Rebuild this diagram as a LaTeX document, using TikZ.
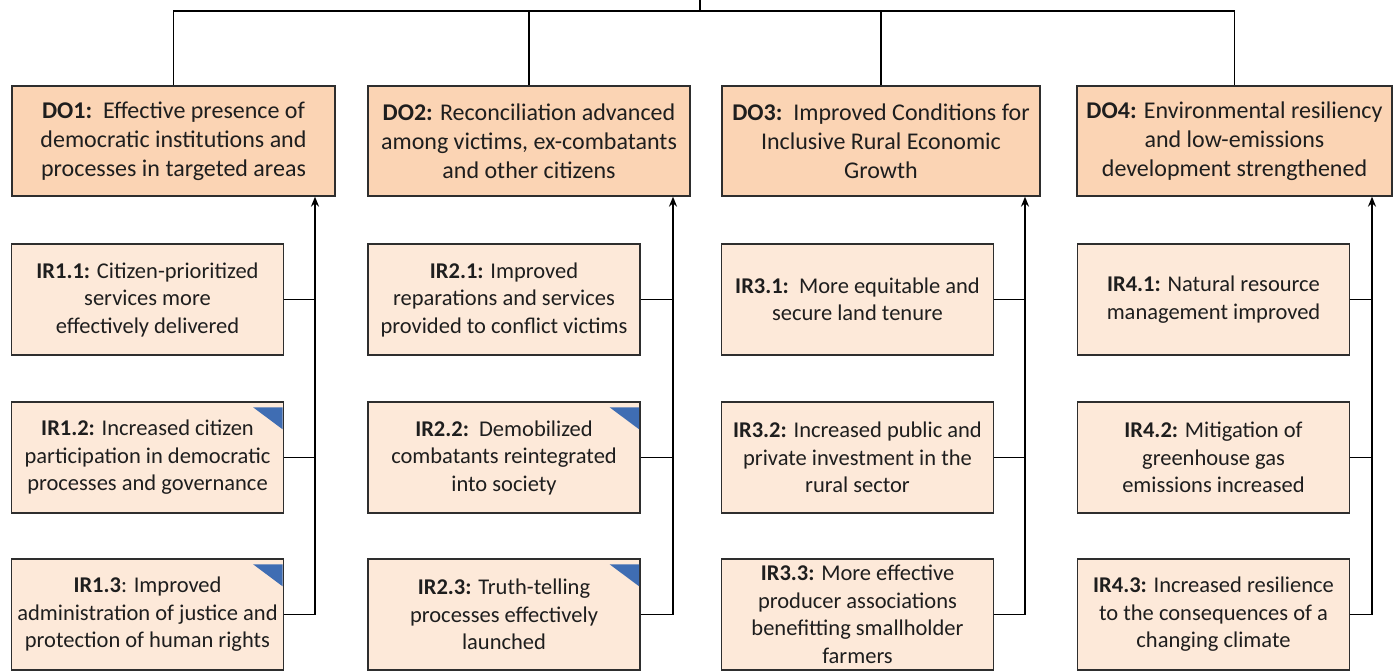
\documentclass[tikz,border=0pt]{standalone}
\usepackage{fontspec}
\setmainfont{Carlito}
\usetikzlibrary{arrows.meta,calc}

\definecolor{dofill}{HTML}{FBD4B4}
\definecolor{irfill}{HTML}{FDE9D9}
\definecolor{boxline}{HTML}{2E2E2E}
\definecolor{flag}{HTML}{3F6DB3}
\definecolor{txt}{HTML}{1E1E1E}

\tikzset{
  dobox/.style={draw=boxline, line width=1.3pt, fill=dofill, align=center,
    minimum height=110pt, inner sep=0pt, text=txt,
    font=\fontsize{24}{29}\selectfont},
  irbox/.style={draw=boxline, line width=1.3pt, fill=irfill, align=center,
    minimum width=272pt, minimum height=111pt, inner sep=0pt, text=txt,
    font=\fontsize{22.5}{27.5}\selectfont},
  conn/.style={draw=black, line width=1.6pt},
  upconn/.style={conn, -{Stealth[length=10pt,width=8pt]}},
  flagmark/.style={fill=flag}
}

\newcommand{\flagat}[1]{%
  \fill[flagmark] ([xshift=-31pt,yshift=-6pt]#1.north east) --
                  ([xshift=-1.5pt,yshift=-6pt]#1.north east) --
                  ([xshift=-1.5pt,yshift=-28pt]#1.north east) -- cycle;}

\begin{document}
\begin{tikzpicture}[x=1pt,y=1pt]
\useasboundingbox (0,0) rectangle (1393,-672);

% development objectives
\node[dobox, minimum width=323pt] (do1) at (173.5,-141)
  {\textbf{DO1:}\ \ Effective presence of\\democratic institutions and\\processes in targeted areas};
\node[dobox, minimum width=322pt] (do2) at (529,-141)
  {\textbf{DO2:} Reconciliation advanced\\among victims, ex-combatants\\and other citizens};
\node[dobox, minimum width=318pt] (do3) at (881,-141)
  {\textbf{DO3:}\ \ Improved Conditions for\\Inclusive Rural Economic\\Growth};
\node[dobox, minimum width=315pt] (do4) at (1234.5,-141)
  {\textbf{DO4:} Environmental resiliency\\and low-emissions\\development strengthened};

% intermediate results
\node[irbox] (ir11) at (147.5,-299.5)
  {\textbf{IR1.1:} Citizen-prioritized\\services more\\effectively delivered};
\node[irbox] (ir12) at (147.5,-457.5)
  {\textbf{IR1.2:} Increased citizen\\participation in democratic\\processes and governance};
\node[irbox] (ir13) at (147.5,-614.5)
  {\textbf{IR1.3}: Improved\\administration of justice and\\protection of human rights};

\node[irbox] (ir21) at (504,-299.5)
  {\textbf{IR2.1:} Improved\\reparations and services\\provided to conflict victims};
\node[irbox] (ir22) at (504,-457.5)
  {\textbf{IR2.2:}\ \ Demobilized\\combatants reintegrated\\into society};
\node[irbox] (ir23) at (504,-614.5)
  {\textbf{IR2.3:} Truth-telling\\processes effectively\\launched};

\node[irbox] (ir31) at (857.5,-299.5)
  {\textbf{IR3.1:}\ \ More equitable and\\secure land tenure};
\node[irbox] (ir32) at (857.5,-457.5)
  {\textbf{IR3.2:} Increased public and\\private investment in the\\rural sector};
\node[irbox] (ir33) at (857.5,-614.5)
  {\textbf{IR3.3:} More effective\\producer associations\\benefitting smallholder\\farmers};

\node[irbox] (ir41) at (1213.5,-299.5)
  {\textbf{IR4.1:} Natural resource\\management improved};
\node[irbox] (ir42) at (1213.5,-457.5)
  {\textbf{IR4.2:} Mitigation of\\greenhouse gas\\emissions increased};
\node[irbox] (ir43) at (1213.5,-614.5)
  {\textbf{IR4.3:} Increased resilience\\to the consequences of a\\changing climate};

% comment markers
\flagat{ir12}
\flagat{ir13}
\flagat{ir22}
\flagat{ir23}

% tree above the objectives
\coordinate (root) at (700,0);
\coordinate (bus) at (700,-11);
\draw[conn] (root) -- (bus);
\draw[conn] (do1.north) |- (bus) -| (do4.north);
\draw[conn] (do2.north) -- (do2.north |- bus);
\draw[conn] (do3.north) -- (do3.north |- bus);

% result spines feeding each objective
\coordinate (x1) at (315,0);
\coordinate (x2) at (673,0);
\coordinate (x3) at (1025,0);
\coordinate (x4) at (1372,0);
\coordinate (b1) at (do1.south -| x1);
\coordinate (b2) at (do2.south -| x2);
\coordinate (b3) at (do3.south -| x3);
\coordinate (b4) at (do4.south -| x4);

\foreach \c in {1,2,3,4}{
  \draw[upconn] (ir\c3.east) -| (b\c);
  \draw[conn] (ir\c1.east) -- (ir\c1.east -| b\c);
  \draw[conn] (ir\c2.east) -- (ir\c2.east -| b\c);
}
\end{tikzpicture}
\end{document}
